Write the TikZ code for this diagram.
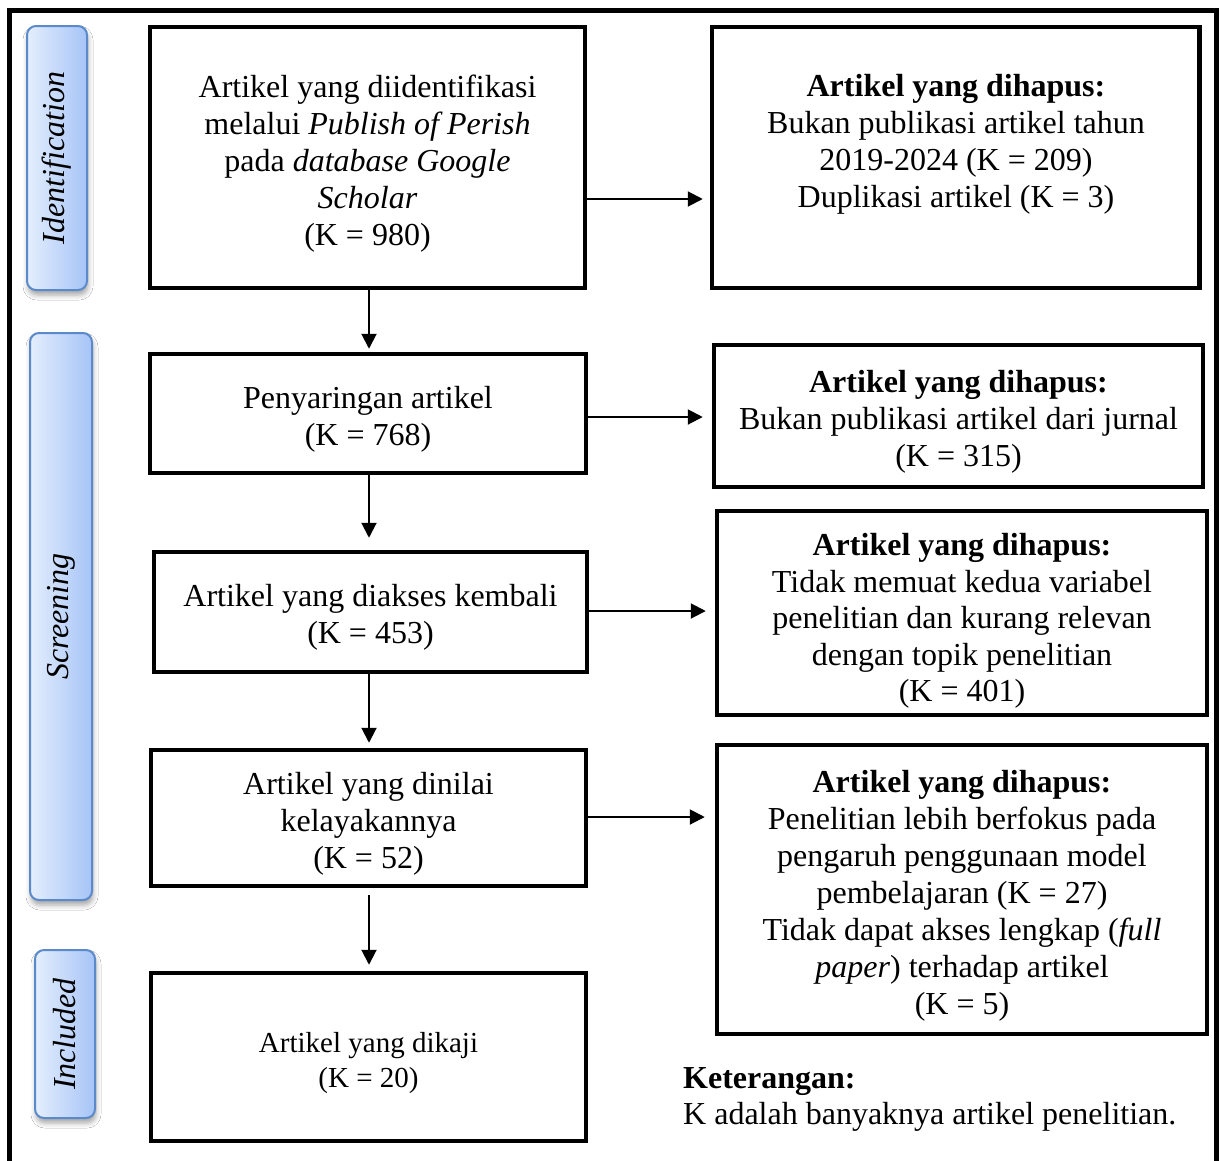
\documentclass[tikz,border=0pt]{standalone}
\usepackage{fontspec}
\usepackage{graphicx}
\setmainfont{Liberation Serif}
\usetikzlibrary{arrows.meta,shadows.blur}
\definecolor{lblL}{HTML}{E4EEFD}
\definecolor{lblR}{HTML}{A6C4F7}
\definecolor{lblB}{HTML}{5B8ACB}
\begin{document}
\begin{tikzpicture}[x=1pt,y=-1pt,
  box/.style={draw=black, line width=4.5pt, rectangle, inner sep=0pt},
  txt/.style={align=center, inner sep=0pt, font=\fontsize{32}{37}\selectfont},
  lbl/.style={draw=lblB, line width=2pt, rounded corners=9pt, left color=lblL, right color=lblR,
    blur shadow={shadow xshift=1pt, shadow yshift=-5pt, shadow blur radius=5pt, shadow opacity=35},
    inner sep=0pt, font=\fontsize{32}{37}\selectfont\itshape},
  arr/.style={line width=2pt, -{Triangle[length=15pt,width=15pt]}},
]
\useasboundingbox (0,0) rectangle (1220,1160);
\fill[white] (0,0) rectangle (1220,1160);
\draw[line width=4.5pt] (9.5,10.5) rectangle (1216.5,1180);

% side labels
\node[lbl, minimum width=60pt, minimum height=264pt] (L1) at (57,158) {\rotatebox{90}{Identification}};
\node[lbl, minimum width=62pt, minimum height=567pt] (L2) at (61,616.5) {\rotatebox{90}{Screening}};
\node[lbl, minimum width=60pt, minimum height=168pt] (L3) at (65,1034) {\rotatebox{90}{Included}};

% left column
\node[box, minimum width=435pt, minimum height=261pt] (b1) at (367.5,157.5) {};
\node[txt] (b1t) at ([yshift=-6pt]b1.center)
  {Artikel yang diidentifikasi\\ melalui \textit{Publish of Perish}\\ pada \textit{database Google}\\ \textit{Scholar}\\ (K = 980)};
\node[box, minimum width=436pt, minimum height=119pt] (b2) at (368,413.5) {};
\node[txt] (b2t) at ([yshift=-6pt]b2.center) {Penyaringan artikel\\ (K = 768)};
\node[box, minimum width=433pt, minimum height=120pt] (b3) at (370.5,612) {};
\node[txt] (b3t) at ([yshift=-5pt]b3.center) {Artikel yang diakses kembali\\ (K = 453)};
\node[box, minimum width=435pt, minimum height=136pt] (b4) at (368.5,818) {};
\node[txt] (b4t) at ([yshift=-6pt]b4.center) {Artikel yang dinilai\\ kelayakannya\\ (K = 52)};
\node[box, minimum width=435pt, minimum height=168pt] (b5) at (368.5,1057) {};
\node[txt, font=\fontsize{29}{35}\selectfont] (b5t) at ([yshift=-6pt]b5.center) {Artikel yang dikaji\\ (K = 20)};

% right column
\node[box, minimum width=487.5pt, minimum height=261pt] (r1) at (955.75,157.5) {};
\node[txt] (r1t) at (956,144)
  {\textbf{Artikel yang dihapus:}\\ Bukan publikasi artikel tahun\\ 2019-2024 (K = 209)\\ Duplikasi artikel (K = 3)};
\node[box, minimum width=489pt, minimum height=142pt] (r2) at (958.5,416) {};
\node[txt] (r2t) at ([yshift=-6pt]r2.center)
  {\textbf{Artikel yang dihapus:}\\ Bukan publikasi artikel dari jurnal\\ (K = 315)};
\node[box, minimum width=490pt, minimum height=204pt] (r3) at (962,613) {};
\node[txt, font=\fontsize{32}{36.5}\selectfont] (r3t) at ([yshift=-8pt]r3.center)
  {\textbf{Artikel yang dihapus:}\\ Tidak memuat kedua variabel\\ penelitian dan kurang relevan\\ dengan topik penelitian\\ (K = 401)};
\node[box, minimum width=490pt, minimum height=289pt] (r4) at (962,889.5) {};
\node[txt] (r4t) at ([yshift=-6pt]r4.center)
  {\textbf{Artikel yang dihapus:}\\ Penelitian lebih berfokus pada\\ pengaruh penggunaan model\\ pembelajaran (K = 27)\\ Tidak dapat akses lengkap (\textit{full}\\ \textit{paper}) terhadap artikel\\ (K = 5)};

\node[anchor=west, align=left, inner sep=0pt, font=\fontsize{32}{36}\selectfont] (ket) at (683,1099)
  {\textbf{Keterangan:}\\ K adalah banyaknya artikel penelitian.};

% connectors
\coordinate (xv) at (369,0);
\coordinate (a1) at (0,199);
\coordinate (a2) at (0,417);
\coordinate (a3) at (0,611);
\coordinate (a4) at (0,817);
\draw[arr] (b1.east |- a1) -- ([xshift=-7pt]r1.west |- a1);
\draw[arr] (b2.east |- a2) -- ([xshift=-9pt]r2.west |- a2);
\draw[arr] (b3.east |- a3) -- ([xshift=-9pt]r3.west |- a3);
\draw[arr] (b4.east |- a4) -- ([xshift=-10pt]r4.west |- a4);
\draw[arr] (b1.south -| xv) -- ([yshift=3pt]b2.north -| xv);
\draw[arr] (b2.south -| xv) -- ([yshift=12pt]b3.north -| xv);
\draw[arr] (b3.south -| xv) -- ([yshift=5pt]b4.north -| xv);
\draw[arr] ([yshift=-7pt]b4.south -| xv) -- ([yshift=6pt]b5.north -| xv);
\end{tikzpicture}
\end{document}
